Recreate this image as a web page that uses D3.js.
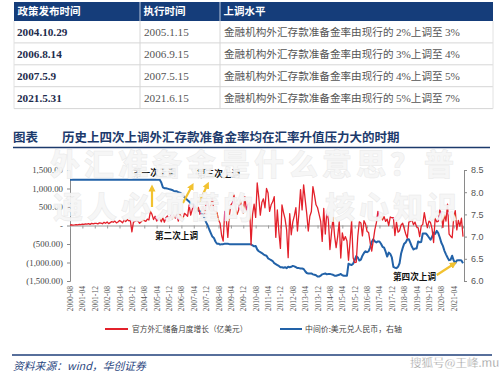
<!DOCTYPE html>
<html><head><meta charset="utf-8">
<script src="https://cdn.jsdelivr.net/npm/d3@7"></script>
<style>body{margin:0;background:#fff}svg{display:block}</style>
</head><body><svg id="c" width="499" height="372"></svg>
<script>
// ---------- DATA ----------
const tableHeader = ["政策发布时间", "执行时间", "上调水平"];
const announceDates = ["2004.10.29", "2006.8.14", "2007.5.9", "2021.5.31"];
const executeDates = ["2005.1.15", "2006.9.15", "2007.5.15", "2021.6.15"];
const rateFrom = ["2%", "3%", "4%", "5%"];
const rateTo = ["3%", "4%", "5%", "7%"];

const chartLabel = "图表";
const chartTitle = "历史上四次上调外汇存款准备金率均在汇率升值压力大的时期";
const sourceText = "资料来源：wind，华创证券";
const seriesNames = ["官方外汇储备月度增长（亿美元）", "中间价:美元兑人民币，右轴"];

const firstMonth = "2000-08";
const xTickLabels = ["2000-08","2001-04","2001-12","2002-08","2003-04","2003-12","2004-08","2005-04",
  "2005-12","2006-08","2007-04","2007-12","2008-08","2009-04","2009-12","2010-08","2011-04","2011-12",
  "2012-08","2013-04","2013-12","2014-08","2015-04","2015-12","2016-08","2017-04","2017-12","2018-08",
  "2019-04","2019-12","2020-08","2021-04"];
const leftTicks = [1500, 1000, 500, 0, -500, -1000, -1500];
const leftTickLabels = ["1,500.00", "1,000.00", "500.00", "-", "(500.00)", "(1,000.00)", "(1,500.00)"];
const rightTicks = [8.5, 8.0, 7.5, 7.0, 6.5, 6.0];

// monthly change of official FX reserves (100m USD), 2000-08 .. 2021-10
const reserveChange = [
  12, 20, 8, 15, 25,                                          // 2000 Aug-Dec
  18, 30, 22, 38, 28, 45, 35, 50, 30, 58, 42, 60,             // 2001
  55, 45, 70, 62, 48, 85, 60, 95, 50, 78, 105, 88,            // 2002
  120, 70, 95, 135, 110, 75, 150, 105, 160, 125, 140, -170,   // 2003
  90, 110, 140, 120, 60, 100, 150, 130, 110, 170, 150, 380,   // 2004
  300, 160, 250, 120, 180, 220, 100, 200, 90, 210, 260, 150,  // 2005
  260, 180, 290, 200, 280, 120, 310, 210, 180, 330, 290, 250, // 2006
  560, 280, 430, 540, 330, 420, 490, 300, 380, 510, 320, 600, // 2007
  650, 420, 580, 740, 400, 380, 350, 150, 60, -270, -420, 380,// 2008
  180, -320, 280, 560, 620, 820, 430, 300, 420, 700, 460, 330,// 2009
  780, 420, 560, 620, -520, 300, 580, 220, 1150, 760, 280, 620,// 2010
  720, 480, 1000, 880, 380, 560, 640, 780, -320, 420, -180, -620,// 2011
  560, 350, 180, -120, -870, 320, -250, 100, 260, 480, -150, 350,// 2012
  970, 420, 1100, 700, 320, -150, 250, 380, 1050, 820, 560, 480,// 2013
  300, 120, -430, 460, -230, 380, 150, -650, -200, 220, -280, -600,// 2014
  -300, 100, -880, -200, -400, -300, -420, -940, -430, 120, -870, -1000,// 2015
  -990, -290, 100, 70, -280, 130, 40, -160, -190, -460, -690, -410,// 2016
  -120, 70, 380, 200, 240, 150, 240, 110, 170, 0, 230, 210,   // 2017
  215, -270, 90, -180, -140, 15, 60, -80, -230, -340, 90, 110,// 2018
  150, 20, 90, -40, -60, -300, -10, 30, 350, 110, -60, 120,   // 2019
  80, -90, -460, 190, 100, 110, 420, 310, -50, 300, 120, 580, // 2020
  -230, -290, -330, 220, 400, -120, 140, -20, 200, -300       // 2021 Jan-Oct
];

// USD/CNY central parity, 2000-08 .. 2021-10
const usdCny = [
  8.28, 8.28, 8.28, 8.28, 8.28,                                             // 2000
  8.28, 8.28, 8.28, 8.28, 8.28, 8.28, 8.28, 8.28, 8.28, 8.28, 8.28, 8.28,   // 2001
  8.28, 8.28, 8.28, 8.28, 8.28, 8.28, 8.28, 8.28, 8.28, 8.28, 8.28, 8.28,   // 2002
  8.28, 8.28, 8.28, 8.28, 8.28, 8.28, 8.28, 8.28, 8.28, 8.28, 8.28, 8.28,   // 2003
  8.28, 8.28, 8.28, 8.28, 8.28, 8.28, 8.28, 8.28, 8.28, 8.28, 8.28, 8.28,   // 2004
  8.28, 8.28, 8.28, 8.28, 8.28, 8.28, 8.22, 8.11, 8.09, 8.09, 8.08, 8.07,   // 2005
  8.06, 8.05, 8.03, 8.02, 8.02, 8.00, 7.99, 7.97, 7.92, 7.89, 7.85, 7.82,   // 2006
  7.79, 7.75, 7.73, 7.72, 7.66, 7.62, 7.58, 7.57, 7.51, 7.50, 7.40, 7.32,   // 2007
  7.25, 7.16, 7.08, 7.00, 6.97, 6.89, 6.84, 6.84, 6.82, 6.83, 6.83, 6.84,   // 2008
  6.84, 6.84, 6.83, 6.83, 6.83, 6.83, 6.83, 6.83, 6.83, 6.83, 6.83, 6.83,   // 2009
  6.83, 6.83, 6.83, 6.83, 6.83, 6.80, 6.78, 6.79, 6.71, 6.67, 6.65, 6.63,   // 2010
  6.60, 6.58, 6.57, 6.51, 6.49, 6.47, 6.45, 6.40, 6.38, 6.36, 6.34, 6.31,   // 2011
  6.31, 6.30, 6.31, 6.29, 6.32, 6.31, 6.32, 6.34, 6.33, 6.31, 6.29, 6.29,   // 2012
  6.28, 6.28, 6.27, 6.22, 6.18, 6.17, 6.17, 6.17, 6.15, 6.14, 6.13, 6.10,   // 2013
  6.10, 6.12, 6.15, 6.16, 6.17, 6.15, 6.16, 6.16, 6.15, 6.14, 6.12, 6.12,   // 2014
  6.13, 6.14, 6.16, 6.13, 6.12, 6.12, 6.12, 6.39, 6.37, 6.36, 6.39, 6.47,   // 2015
  6.56, 6.53, 6.46, 6.48, 6.57, 6.63, 6.67, 6.65, 6.67, 6.76, 6.88, 6.94,   // 2016
  6.89, 6.87, 6.89, 6.89, 6.84, 6.77, 6.75, 6.66, 6.55, 6.64, 6.61, 6.53,   // 2017
  6.32, 6.30, 6.29, 6.32, 6.40, 6.62, 6.74, 6.84, 6.87, 6.94, 6.94, 6.86,   // 2018
  6.77, 6.71, 6.73, 6.73, 6.89, 6.87, 6.88, 7.07, 7.07, 7.07, 7.03, 6.98,   // 2019
  6.93, 6.99, 7.09, 7.06, 7.13, 7.08, 6.98, 6.86, 6.79, 6.68, 6.60, 6.53,   // 2020
  6.47, 6.48, 6.57, 6.46, 6.40, 6.46, 6.47, 6.47, 6.46, 6.40                // 2021
];

const annotations = [
  {text: "第一次上调", month: "2005-01"},
  {text: "第二次上调", month: "2006-09"},
  {text: "第三次上调", month: "2007-05"},
  {text: "第四次上调", month: "2021-06"}
];
const watermarkLines = ["外汇准备金是什么意思？普", "通人必须懂的", "核心知识"];
const siteMark = "搜狐号@王峰.mu";

// ---------- SETUP ----------
const svg = d3.select("#c");
const NAVY = "#153d7a";
const CJK = "'Noto Sans CJK SC', sans-serif";
const SERIF = "'Liberation Serif', 'Times New Roman', serif";
svg.append("rect").attr("width", 499).attr("height", 372).attr("fill", "#fff");

// month categories
const parseM = d3.timeParse("%Y-%m"), fmtM = d3.timeFormat("%Y-%m");
const start = parseM(firstMonth);
const months = d3.timeMonth.range(start, d3.timeMonth.offset(start, reserveChange.length)).map(fmtM);

// ---------- TABLE ----------
const colX = [14, 140, 220, 493];
const headTop = 2, headBot = 21, rowH = 21.9;
const tg = svg.append("g");
tg.append("rect").attr("x", colX[0]).attr("y", headTop).attr("width", colX[3] - colX[0])
  .attr("height", headBot - headTop).attr("fill", NAVY);
tg.selectAll("text.h").data(tableHeader).join("text")
  .attr("x", (d, i) => colX[i] + 3.5).attr("y", 15.3)
  .attr("font-family", CJK).attr("font-weight", 700).attr("font-size", 10.5)
  .attr("fill", "#fff").text(d => d);
// grid
const rowsBot = headBot + rowH * announceDates.length;
announceDates.forEach((d, i) => {
  tg.append("line").attr("x1", colX[0]).attr("x2", colX[3])
    .attr("y1", headBot + rowH * (i + 1)).attr("y2", headBot + rowH * (i + 1))
    .attr("stroke", "#d6d6d6").attr("stroke-width", 1);
});
[colX[1], colX[2]].forEach(x => {
  tg.append("line").attr("x1", x).attr("x2", x).attr("y1", headTop).attr("y2", headBot)
    .attr("stroke", "#e8edf5").attr("stroke-width", 0.8);
  tg.append("line").attr("x1", x).attr("x2", x).attr("y1", headBot).attr("y2", rowsBot)
    .attr("stroke", "#d6d6d6").attr("stroke-width", 1);
});
[colX[0], colX[3]].forEach(x => {
  tg.append("line").attr("x1", x).attr("x2", x).attr("y1", headBot).attr("y2", rowsBot)
    .attr("stroke", "#e2e2e2").attr("stroke-width", 1);
});
const rows = tg.selectAll("g.row").data(announceDates).join("g")
  .attr("transform", (d, i) => `translate(0,${headBot + rowH * i + rowH / 2 + 4})`);
rows.append("text").attr("x", colX[0] + 3).attr("font-family", SERIF).attr("font-weight", 700)
  .attr("font-size", 11.2).attr("fill", "#1d2b4c").text(d => d);
rows.append("text").attr("x", colX[1] + 4).attr("font-family", SERIF)
  .attr("font-size", 11.2).attr("fill", "#555").text((d, i) => executeDates[i]);
const c3 = rows.append("text").attr("x", colX[2] + 4).attr("font-size", 10.6).attr("fill", "#555");
c3.append("tspan").attr("font-family", CJK).text("金融机构外汇存款准备金率由现行的 ");
c3.append("tspan").attr("font-family", SERIF).attr("font-size", 11.2).text((d, i) => rateFrom[i]);
c3.append("tspan").attr("font-family", CJK).text("上调至 ");
c3.append("tspan").attr("font-family", SERIF).attr("font-size", 11.2).text((d, i) => rateTo[i]);

// ---------- CHART TITLE ----------
svg.append("text").attr("x", 13).attr("y", 142).attr("font-family", CJK).attr("font-weight", 700)
  .attr("font-size", 12.5).attr("fill", "#1c3a6c").text(chartLabel);
svg.append("text").attr("x", 62).attr("y", 142).attr("font-family", CJK).attr("font-weight", 700)
  .attr("font-size", 12.5).attr("fill", "#1c3a6c").text(chartTitle);
svg.append("line").attr("x1", 13).attr("x2", 490).attr("y1", 147.5).attr("y2", 147.5)
  .attr("stroke", "#1c3a6c").attr("stroke-width", 1.4);

// ---------- SCALES ----------
const plotL = 70, plotR = 463, plotT = 170, plotB = 281;
const x = d3.scalePoint().domain(months).range([plotL, plotR]);
const yL = d3.scaleLinear().domain([-1500, 1500]).range([plotB, plotT]);
const yR = d3.scaleLinear().domain([6.0, 8.5]).range([plotB, plotT]);

// left axis
const axL = svg.append("g").attr("transform", `translate(${plotL},0)`)
  .call(d3.axisLeft(yL).tickValues(leftTicks).tickSize(3).tickPadding(4)
    .tickFormat((d, i) => leftTickLabels[i]));
axL.select(".domain").attr("stroke", "#8a8a8a");
axL.selectAll(".tick line").attr("stroke", "#8a8a8a");
axL.selectAll("text").attr("font-family", SERIF).attr("font-size", 8.8).attr("fill", "#444");

// right axis
const axR = svg.append("g").attr("transform", `translate(${plotR + 1},0)`)
  .call(d3.axisRight(yR).tickValues(rightTicks).tickSize(3).tickPadding(4)
    .tickFormat(d3.format(".1f")));
axR.select(".domain").attr("stroke", "#8a8a8a");
axR.selectAll(".tick line").attr("stroke", "#8a8a8a");
axR.selectAll("text").attr("font-family", "'Liberation Sans', Arial, sans-serif")
  .attr("font-size", 9).attr("fill", "#555");

// zero axis with ticks
const axZ = svg.append("g").attr("transform", `translate(0,${yL(0)})`)
  .call(d3.axisBottom(x).tickValues(xTickLabels).tickSize(3).tickFormat(""));
axZ.select(".domain").attr("stroke", "#999");
axZ.selectAll(".tick line").attr("stroke", "#999");

// bottom labels (rotated)
const axB = svg.append("g").attr("transform", `translate(0,${plotB + 5})`)
  .call(d3.axisBottom(x).tickValues(xTickLabels).tickSize(0));
axB.select(".domain").remove();
axB.selectAll("text").attr("transform", "rotate(-90)").attr("text-anchor", "end")
  .attr("x", 0).attr("y", 0).attr("dy", "0.33em")
  .attr("font-family", SERIF).attr("font-size", 7.6).attr("fill", "#555");

// ---------- LINES ----------
const redLine = d3.line().x((d, i) => x(months[i])).y(d => yL(d));
const blueLine = d3.line().x((d, i) => x(months[i])).y(d => yR(d));
svg.append("path").datum(usdCny).attr("d", blueLine).attr("fill", "none")
  .attr("stroke", "#2262a8").attr("stroke-width", 2).attr("stroke-linejoin", "round");
svg.append("path").datum(reserveChange).attr("d", redLine).attr("fill", "none")
  .attr("stroke", "#e3212b").attr("stroke-width", 1.3).attr("stroke-linejoin", "round");

// ---------- ANNOTATIONS ----------
const YEL = "#f2c230";
const defs = svg.append("defs");
defs.append("marker").attr("id", "ah").attr("viewBox", "0 0 10 10").attr("refX", 5).attr("refY", 5)
  .attr("markerWidth", 3.2).attr("markerHeight", 3.2).attr("orient", "auto-start-reverse")
  .append("path").attr("d", "M0,0L10,5L0,10Z").attr("fill", YEL);
const arrow = (x1, y1, x2, y2) => svg.append("line").attr("x1", x1).attr("y1", y1)
  .attr("x2", x2).attr("y2", y2).attr("stroke", YEL).attr("stroke-width", 2.2)
  .attr("marker-end", "url(#ah)");
const ax1 = x(annotations[0].month), ax2 = x(annotations[1].month), ax3 = x(annotations[2].month),
      ax4 = x(annotations[3].month);
arrow(ax1, 207, ax1, 188);
arrow(ax2, 203, ax2 + 9, 186);
arrow(ax3 + 4, 202, ax3 + 12, 185);
arrow(ax4 - 20, 275, ax4 - 3, 264);
const annFont = g => g.attr("font-family", CJK).attr("font-weight", 700).attr("font-size", 8.6).attr("fill", "#111");
svg.append("text").attr("x", 133).attr("y", 175.5).call(annFont).text(annotations[0].text);
svg.append("text").attr("x", 155).attr("y", 238.5).call(annFont).text(annotations[1].text);
svg.append("text").attr("x", 197).attr("y", 177).call(annFont).text(annotations[2].text);
svg.append("text").attr("x", 393).attr("y", 279.5).call(annFont).text(annotations[3].text);

// ---------- LEGEND ----------
const lg = svg.append("g").attr("transform", "translate(0,329)");
lg.append("line").attr("x1", 105).attr("x2", 128).attr("stroke", "#e3212b").attr("stroke-width", 2);
lg.append("text").attr("x", 132).attr("y", 3).attr("font-family", CJK).attr("font-size", 7.7)
  .attr("fill", "#444").text(seriesNames[0]);
lg.append("line").attr("x1", 280).attr("x2", 302).attr("stroke", "#2262a8").attr("stroke-width", 2);
lg.append("text").attr("x", 305).attr("y", 3).attr("font-family", CJK).attr("font-size", 7.9)
  .attr("fill", "#444").text(seriesNames[1]);

// ---------- FOOTER ----------
svg.append("line").attr("x1", 12).attr("x2", 492).attr("y1", 355).attr("y2", 355)
  .attr("stroke", "#1f3f7a").attr("stroke-width", 1.4);
svg.append("text").attr("x", 13).attr("y", 369.5).attr("font-family", CJK).attr("font-style", "italic")
  .attr("font-size", 10.8).attr("fill", "#2a4680").text(sourceText);

// ---------- WATERMARKS ----------
const wm = svg.append("g").attr("font-family", CJK).attr("font-weight", 900).attr("font-size", 30)
  .attr("fill", "#f6f6f6").attr("fill-opacity", 0.96).attr("stroke", "#e2e2e2").attr("stroke-width", 0.5)
  .attr("stroke-opacity", 0.7).attr("letter-spacing", 4);
wm.append("text").attr("x", 50).attr("y", 175).text(watermarkLines[0]);
wm.append("text").attr("x", 53).attr("y", 218).text(watermarkLines[1]);
wm.append("text").attr("x", 325).attr("y", 218).text(watermarkLines[2]);

svg.append("text").attr("x", 410).attr("y", 366.5).attr("font-family", CJK).attr("font-size", 11.5)
  .attr("fill", "#8a8a8a").attr("stroke", "#fff").attr("stroke-width", 0.3).text(siteMark);
</script></body></html>
